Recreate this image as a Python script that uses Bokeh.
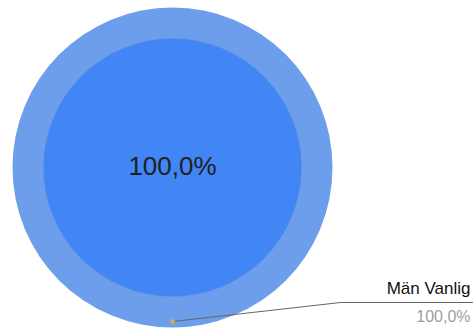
import math
from bokeh.plotting import figure
from bokeh.models import Range1d
from bokeh.core.properties import value
from bokeh.embed import file_html
from bokeh.resources import INLINE

# Data
categories = ["Män Vanlig"]
outer_values = [100.0]
inner_values = [100.0]
outer_labels = ["100,0%"]
inner_labels = ["100,0%"]

W, H = 473, 329
p = figure(width=W, height=H, output_backend="svg", toolbar_location=None,
           x_range=Range1d(0, W), y_range=Range1d(H, 0), min_border=0)
p.axis.visible = False
p.grid.visible = False
p.outline_line_color = None
p.background_fill_color = "white"

cx, cy = 172, 167
R_out, R_in = 160, 129

def angles(vals):
    tot = sum(vals)
    starts, ends = [], []
    acc = 0.0
    for v in vals:
        starts.append(math.pi / 2 - 2 * math.pi * acc / tot)
        acc += v
        ends.append(math.pi / 2 - 2 * math.pi * acc / tot)
    return starts, ends

s_o, e_o = angles(outer_values)
s_i, e_i = angles(inner_values)
outer_colors = ["#6d9eeb"]
inner_colors = ["#4285f4"]

for s, e, c in zip(s_o, e_o, outer_colors):
    if abs(s - e) >= 2 * math.pi - 1e-9:
        p.circle(x=[cx], y=[cy], radius=R_out, fill_color=c, line_color=None)
    else:
        p.annular_wedge(x=cx, y=cy, inner_radius=R_in, outer_radius=R_out,
                        start_angle=e, end_angle=s, fill_color=c, line_color=None)
for s, e, c in zip(s_i, e_i, inner_colors):
    if abs(s - e) >= 2 * math.pi - 1e-9:
        p.circle(x=[cx], y=[cy], radius=R_in, fill_color=c, line_color="#5a8fe0", line_width=0.6)
    else:
        p.wedge(x=cx, y=cy, radius=R_in, start_angle=e, end_angle=s,
                fill_color=c, line_color=None)

# inner label
p.text(x=[cx], y=[cy - 2], text=inner_labels, text_align="center", text_baseline="middle",
       text_font=value("Liberation Sans"), text_font_size="26px", text_color="#1f1f1f")

# leader line for outer ring label
dot = (cx, cy + 154)
p.line(x=[dot[0], 340, W], y=[dot[1], 302, 302], line_color="#666666", line_width=1.2)
p.scatter(x=[dot[0]], y=[dot[1]], size=5, fill_color="#c9a860", line_color=None)

p.text(x=[W - 3], y=[288], text=categories, text_align="right", text_baseline="middle",
       text_font=value("Liberation Sans"), text_font_size="17px", text_color="#111111")
p.text(x=[W - 3], y=[316], text=outer_labels, text_align="right", text_baseline="middle",
       text_font=value("Liberation Sans"), text_font_size="16px", text_color="#9e9e9e")

open("out.html", "w").write(file_html(p, INLINE))
